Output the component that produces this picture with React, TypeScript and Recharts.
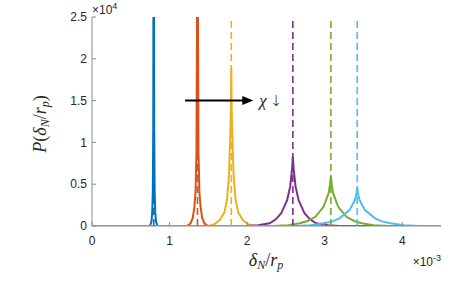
import React from "react";
import { LineChart, Line, XAxis, YAxis, ReferenceLine } from "recharts";

// x in units of 1e-3, y in units of 1e4
const X_TICKS = [0, 1, 2, 3, 4];
const Y_TICKS = [0, 0.5, 1, 1.5, 2, 2.5];
const X_DOMAIN = [0, 4.5];
const Y_DOMAIN = [0, 2.5];

const PEAK_CENTERS = [0.796, 1.36, 1.796, 2.59, 3.08, 3.42];

const blueX = [0, 0.746, 0.766, 0.776, 0.784, 0.79, 0.796, 0.802, 0.808, 0.816, 0.826, 0.846, 4.5];
const blueY = [0, 0, 0.05, 0.15, 0.4, 1.2, 6, 1.2, 0.4, 0.15, 0.05, 0, 0];

const orangeX = [0, 1.22, 1.27, 1.3, 1.32, 1.335, 1.347, 1.354, 1.36, 1.366, 1.373, 1.385, 1.4, 1.42, 1.45, 1.5, 4.5];
const orangeY = [0, 0, 0.03, 0.1, 0.23, 0.4, 0.9, 2.5, 6, 2.5, 0.9, 0.4, 0.23, 0.1, 0.03, 0, 0];

const yellowX = [0, 1.5, 1.576, 1.646, 1.706, 1.74, 1.766, 1.783, 1.791, 1.796, 1.801, 1.809, 1.826, 1.852, 1.886, 1.946, 2.016, 2.096, 4.5];
const yellowY = [0, 0, 0.02, 0.07, 0.16, 0.31, 0.6, 1.1, 1.4, 1.89, 1.4, 1.1, 0.6, 0.31, 0.16, 0.07, 0.02, 0, 0];

const purpleX = [0, 1.99, 2.14, 2.29, 2.37, 2.44, 2.516, 2.555, 2.58, 2.59, 2.6, 2.625, 2.664, 2.74, 2.81, 2.89, 3.04, 3.19, 4.5];
const purpleY = [0, 0, 0.008, 0.032, 0.08, 0.152, 0.31, 0.47, 0.68, 0.83, 0.68, 0.47, 0.31, 0.152, 0.08, 0.032, 0.008, 0, 0];

const greenX = [0, 2.33, 2.53, 2.68, 2.78, 2.88, 2.985, 3.05, 3.07, 3.08, 3.09, 3.11, 3.175, 3.28, 3.38, 3.48, 3.63, 3.83, 4.5];
const greenY = [0, 0, 0.01, 0.032, 0.06, 0.11, 0.23, 0.39, 0.5, 0.6, 0.5, 0.39, 0.23, 0.11, 0.06, 0.032, 0.01, 0, 0];

const cyanX = [0, 2.62, 2.82, 2.99, 3.1, 3.19, 3.32, 3.39, 3.41, 3.42, 3.43, 3.45, 3.52, 3.65, 3.74, 3.85, 4.02, 4.22, 4.5];
const cyanY = [0, 0, 0.01, 0.032, 0.055, 0.092, 0.19, 0.31, 0.39, 0.46, 0.39, 0.31, 0.19, 0.092, 0.055, 0.032, 0.01, 0, 0];

const ARROW_FROM = { x: 1.2, y: 1.5 };
const ARROW_TO = { x: 2.08, y: 1.5 };

const COLORS = ["#0072BD", "#D95319", "#EDB120", "#7E2F8E", "#77AC30", "#4DBEEE"];

const toPoints = (xs: number[], ys: number[]) => xs.map((x, i) => ({ x, y: ys[i] }));
const SERIES = [
  toPoints(blueX, blueY),
  toPoints(orangeX, orangeY),
  toPoints(yellowX, yellowY),
  toPoints(purpleX, purpleY),
  toPoints(greenX, greenY),
  toPoints(cyanX, cyanY),
];

const AXIS_COLOR = "#8a8a8a";
const TEXT_COLOR = "#262626";
const SANS = "'Liberation Sans', Arial, sans-serif";
const TICK_FONT = { fontFamily: SANS, fontSize: 12, fill: TEXT_COLOR };
const MATH_FONT = "'Liberation Serif', 'Times New Roman', serif";

const ArrowShape = (p: any) => {
  const { x1, y1, x2, y2 } = p;
  return (
    <g>
      <line x1={x1} y1={y1} x2={x2 - 8} y2={y2} stroke="#000" strokeWidth={2} />
      <polygon points={`${x2},${y2} ${x2 - 11},${y2 - 4.5} ${x2 - 11},${y2 + 4.5}`} fill="#000" />
      <text x={x2 + 6} y={y2 + 5} fontFamily={MATH_FONT} fontSize={17} fill={TEXT_COLOR}>
        <tspan fontStyle="italic">χ</tspan>
        <tspan dx={3} fontFamily="'DejaVu Sans', sans-serif" fontSize={15} fontWeight={200}>↓</tspan>
      </text>
    </g>
  );
};

export default function App() {
  return (
    <div style={{ position: "absolute", left: 0, top: 0, width: 463, height: 290, background: "#fff" }}>
      <LineChart width={463} height={290} margin={{ top: 17, right: 22, bottom: 34, left: 42 }}>
        <XAxis
          xAxisId="b"
          type="number"
          dataKey="x"
          domain={X_DOMAIN}
          ticks={X_TICKS}
          allowDataOverflow
          height={30}
          stroke={AXIS_COLOR}
          tickSize={-4}
          tickMargin={14}
          tick={TICK_FONT}
        />
        <XAxis
          xAxisId="t"
          orientation="top"
          type="number"
          domain={X_DOMAIN}
          ticks={X_TICKS}
          allowDataOverflow
          height={0}
          stroke={AXIS_COLOR}
          tickSize={-4}
          tick={false}
        />
        <YAxis
          yAxisId="l"
          type="number"
          domain={Y_DOMAIN}
          ticks={Y_TICKS}
          allowDataOverflow
          width={50}
          stroke={AXIS_COLOR}
          tickSize={-4}
          tickMargin={9}
          tick={TICK_FONT}
        />
        <YAxis
          yAxisId="r"
          orientation="right"
          type="number"
          domain={Y_DOMAIN}
          ticks={Y_TICKS}
          allowDataOverflow
          width={0}
          stroke={AXIS_COLOR}
          tickSize={-4}
          tick={false}
        />
        {SERIES.map((d, i) => (
          <Line
            key={`s${i}`}
            xAxisId="b"
            yAxisId="l"
            data={d}
            dataKey="y"
            type="linear"
            stroke={COLORS[i]}
            strokeWidth={2}
            dot={false}
            activeDot={false}
            isAnimationActive={false}
          />
        ))}
        {PEAK_CENTERS.map((c, i) => (
          <ReferenceLine
            key={`r${i}`}
            xAxisId="b"
            yAxisId="l"
            x={c}
            stroke={COLORS[i]}
            strokeWidth={1.6}
            strokeDasharray="7 4"
          />
        ))}
        <ReferenceLine
          xAxisId="b"
          yAxisId="l"
          segment={[ARROW_FROM, ARROW_TO]}
          shape={ArrowShape}
        />
      </LineChart>
      <svg
        width={463}
        height={290}
        style={{ position: "absolute", left: 0, top: 0, pointerEvents: "none" }}
      >
        <text x={92} y={14} fontFamily={SANS} fontSize={12} fill={TEXT_COLOR}>
          ×10<tspan dy={-5} fontSize={9}>4</tspan>
        </text>
        <text x={441} y={266} textAnchor="end" fontFamily={SANS} fontSize={12} fill={TEXT_COLOR}>
          ×10<tspan dy={-5} fontSize={9}>-3</tspan>
        </text>
        <text x={266} y={266} textAnchor="middle" fontFamily={MATH_FONT} fontSize={18} fill={TEXT_COLOR} fontStyle="italic">
          δ<tspan dy={3} fontSize={12}>N</tspan>
          <tspan dy={-3} fontStyle="normal">/</tspan>r<tspan dy={3} fontSize={12}>p</tspan>
        </text>
        <text transform="translate(46,124) rotate(-90)" textAnchor="middle" fontFamily={MATH_FONT} fontSize={18} fill={TEXT_COLOR} fontStyle="italic">
          P<tspan fontStyle="normal">(</tspan>δ<tspan dy={3} fontSize={12}>N</tspan>
          <tspan dy={-3} fontStyle="normal">/</tspan>r<tspan dy={3} fontSize={12}>p</tspan>
          <tspan dy={-3} fontStyle="normal">)</tspan>
        </text>
      </svg>
    </div>
  );
}
